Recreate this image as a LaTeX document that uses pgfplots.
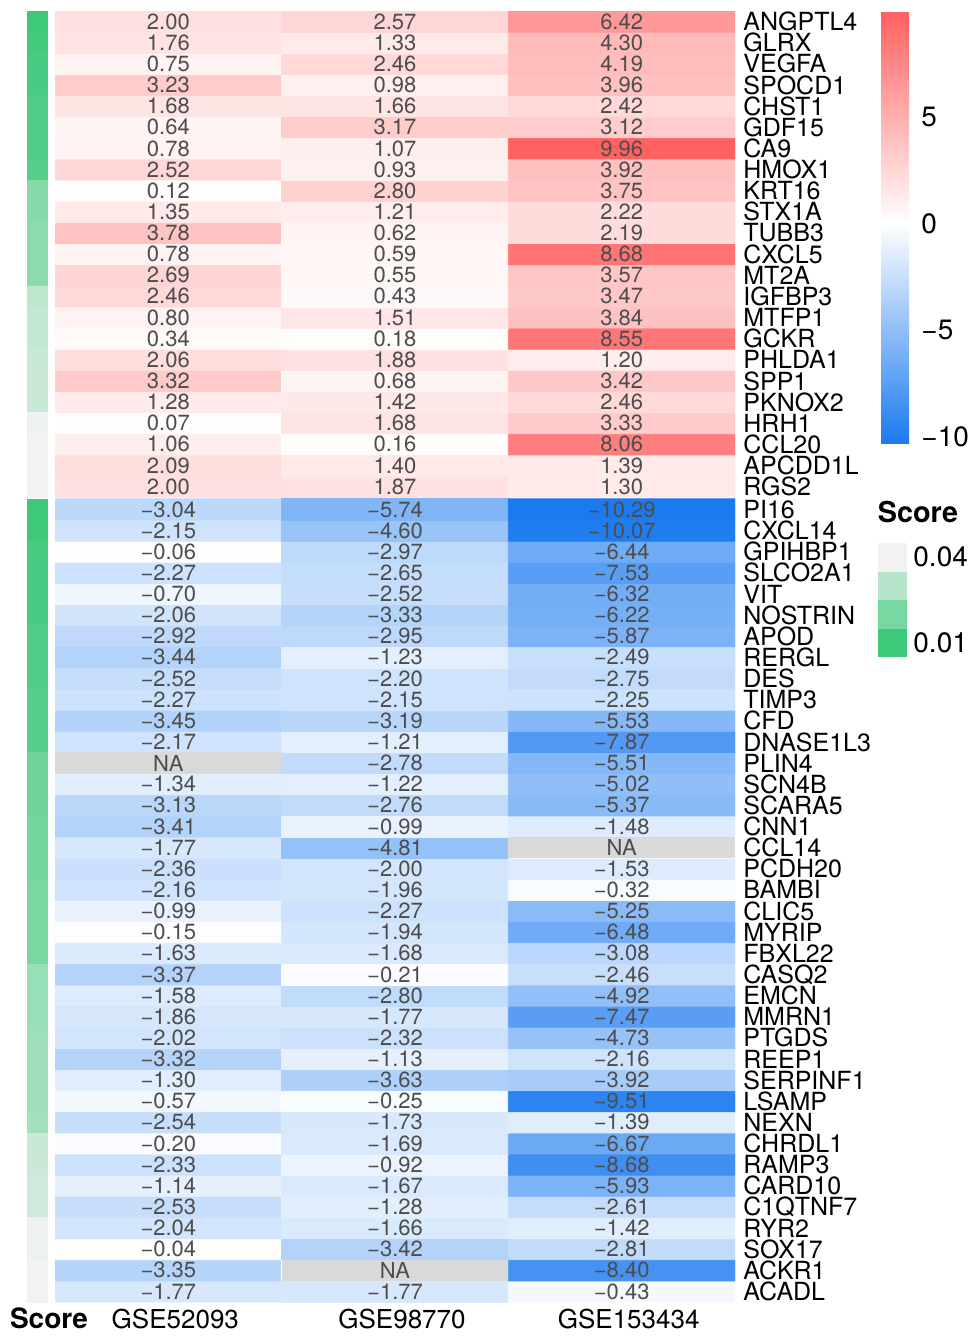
\documentclass[border=0pt]{standalone}
\usepackage{fontspec}
\setmainfont{TeX Gyre Heros}
\usepackage{pgfplots}
\usepackage{pgfplotstable}
\pgfplotsset{compat=1.18}
\definecolor{celltext}{RGB}{77,77,77}
\definecolor{nagray}{RGB}{217,217,217}
\definecolor{sc1}{RGB}{61,201,121}
\definecolor{sc2}{RGB}{121,215,161}
\definecolor{sc3}{RGB}{182,228,202}
\definecolor{sc4}{RGB}{242,242,242}
\pgfplotsset{colormap={hm}{rgb255(0cm)=(27,122,240) rgb255(10.29cm)=(255,255,255) rgb255(20.25cm)=(255,96,96)}}
\pgfplotsset{colormap={sc}{rgb255(0cm)=(61,201,121) rgb255(3cm)=(242,242,242)}}

\pgfplotstableread{
x y v lab
0 38.58 2.00 2.00
1 38.58 1.87 1.87
2 38.58 1.30 1.30
0 39.58 2.09 2.09
1 39.58 1.40 1.40
2 39.58 1.39 1.39
0 40.58 1.06 1.06
1 40.58 0.16 0.16
2 40.58 8.06 8.06
0 41.58 0.07 0.07
1 41.58 1.68 1.68
2 41.58 3.33 3.33
0 42.58 1.28 1.28
1 42.58 1.42 1.42
2 42.58 2.46 2.46
0 43.58 3.32 3.32
1 43.58 0.68 0.68
2 43.58 3.42 3.42
0 44.58 2.06 2.06
1 44.58 1.88 1.88
2 44.58 1.20 1.20
0 45.58 0.34 0.34
1 45.58 0.18 0.18
2 45.58 8.55 8.55
0 46.58 0.80 0.80
1 46.58 1.51 1.51
2 46.58 3.84 3.84
0 47.58 2.46 2.46
1 47.58 0.43 0.43
2 47.58 3.47 3.47
0 48.58 2.69 2.69
1 48.58 0.55 0.55
2 48.58 3.57 3.57
0 49.58 0.78 0.78
1 49.58 0.59 0.59
2 49.58 8.68 8.68
0 50.58 3.78 3.78
1 50.58 0.62 0.62
2 50.58 2.19 2.19
0 51.58 1.35 1.35
1 51.58 1.21 1.21
2 51.58 2.22 2.22
0 52.58 0.12 0.12
1 52.58 2.80 2.80
2 52.58 3.75 3.75
0 53.58 2.52 2.52
1 53.58 0.93 0.93
2 53.58 3.92 3.92
0 54.58 0.78 0.78
1 54.58 1.07 1.07
2 54.58 9.96 9.96
0 55.58 0.64 0.64
1 55.58 3.17 3.17
2 55.58 3.12 3.12
0 56.58 1.68 1.68
1 56.58 1.66 1.66
2 56.58 2.42 2.42
0 57.58 3.23 3.23
1 57.58 0.98 0.98
2 57.58 3.96 3.96
0 58.58 0.75 0.75
1 58.58 2.46 2.46
2 58.58 4.19 4.19
0 59.58 1.76 1.76
1 59.58 1.33 1.33
2 59.58 4.30 4.30
0 60.58 2.00 2.00
1 60.58 2.57 2.57
2 60.58 6.42 6.42
}\uptab

\pgfplotstableread{
x y v lab
0 0.5 -1.77 −1.77
1 0.5 -1.77 −1.77
2 0.5 -0.43 −0.43
0 1.5 -3.35 −3.35
1 1.5 0 NA
2 1.5 -8.40 −8.40
0 2.5 -0.04 −0.04
1 2.5 -3.42 −3.42
2 2.5 -2.81 −2.81
0 3.5 -2.04 −2.04
1 3.5 -1.66 −1.66
2 3.5 -1.42 −1.42
0 4.5 -2.53 −2.53
1 4.5 -1.28 −1.28
2 4.5 -2.61 −2.61
0 5.5 -1.14 −1.14
1 5.5 -1.67 −1.67
2 5.5 -5.93 −5.93
0 6.5 -2.33 −2.33
1 6.5 -0.92 −0.92
2 6.5 -8.68 −8.68
0 7.5 -0.20 −0.20
1 7.5 -1.69 −1.69
2 7.5 -6.67 −6.67
0 8.5 -2.54 −2.54
1 8.5 -1.73 −1.73
2 8.5 -1.39 −1.39
0 9.5 -0.57 −0.57
1 9.5 -0.25 −0.25
2 9.5 -9.51 −9.51
0 10.5 -1.30 −1.30
1 10.5 -3.63 −3.63
2 10.5 -3.92 −3.92
0 11.5 -3.32 −3.32
1 11.5 -1.13 −1.13
2 11.5 -2.16 −2.16
0 12.5 -2.02 −2.02
1 12.5 -2.32 −2.32
2 12.5 -4.73 −4.73
0 13.5 -1.86 −1.86
1 13.5 -1.77 −1.77
2 13.5 -7.47 −7.47
0 14.5 -1.58 −1.58
1 14.5 -2.80 −2.80
2 14.5 -4.92 −4.92
0 15.5 -3.37 −3.37
1 15.5 -0.21 −0.21
2 15.5 -2.46 −2.46
0 16.5 -1.63 −1.63
1 16.5 -1.68 −1.68
2 16.5 -3.08 −3.08
0 17.5 -0.15 −0.15
1 17.5 -1.94 −1.94
2 17.5 -6.48 −6.48
0 18.5 -0.99 −0.99
1 18.5 -2.27 −2.27
2 18.5 -5.25 −5.25
0 19.5 -2.16 −2.16
1 19.5 -1.96 −1.96
2 19.5 -0.32 −0.32
0 20.5 -2.36 −2.36
1 20.5 -2.00 −2.00
2 20.5 -1.53 −1.53
0 21.5 -1.77 −1.77
1 21.5 -4.81 −4.81
2 21.5 0 NA
0 22.5 -3.41 −3.41
1 22.5 -0.99 −0.99
2 22.5 -1.48 −1.48
0 23.5 -3.13 −3.13
1 23.5 -2.76 −2.76
2 23.5 -5.37 −5.37
0 24.5 -1.34 −1.34
1 24.5 -1.22 −1.22
2 24.5 -5.02 −5.02
0 25.5 0 NA
1 25.5 -2.78 −2.78
2 25.5 -5.51 −5.51
0 26.5 -2.17 −2.17
1 26.5 -1.21 −1.21
2 26.5 -7.87 −7.87
0 27.5 -3.45 −3.45
1 27.5 -3.19 −3.19
2 27.5 -5.53 −5.53
0 28.5 -2.27 −2.27
1 28.5 -2.15 −2.15
2 28.5 -2.25 −2.25
0 29.5 -2.52 −2.52
1 29.5 -2.20 −2.20
2 29.5 -2.75 −2.75
0 30.5 -3.44 −3.44
1 30.5 -1.23 −1.23
2 30.5 -2.49 −2.49
0 31.5 -2.92 −2.92
1 31.5 -2.95 −2.95
2 31.5 -5.87 −5.87
0 32.5 -2.06 −2.06
1 32.5 -3.33 −3.33
2 32.5 -6.22 −6.22
0 33.5 -0.70 −0.70
1 33.5 -2.52 −2.52
2 33.5 -6.32 −6.32
0 34.5 -2.27 −2.27
1 34.5 -2.65 −2.65
2 34.5 -7.53 −7.53
0 35.5 -0.06 −0.06
1 35.5 -2.97 −2.97
2 35.5 -6.44 −6.44
0 36.5 -2.15 −2.15
1 36.5 -4.60 −4.60
2 36.5 -10.07 −10.07
0 37.5 -3.04 −3.04
1 37.5 -5.74 −5.74
2 37.5 -10.29 −10.29
}\downtab

\pgfplotstableread{
y s
60.58 0.010
59.58 0.011
58.58 0.012
57.58 0.012
56.58 0.013
55.58 0.013
54.58 0.013
53.58 0.014
52.58 0.022
51.58 0.022
50.58 0.023
49.58 0.023
48.58 0.023
47.58 0.031
46.58 0.032
45.58 0.032
44.58 0.033
43.58 0.033
42.58 0.033
41.58 0.039
40.58 0.040
39.58 0.040
38.58 0.040
37.5 0.010
36.5 0.010
35.5 0.012
34.5 0.012
33.5 0.012
32.5 0.012
31.5 0.013
30.5 0.013
29.5 0.013
28.5 0.014
27.5 0.014
26.5 0.014
25.5 0.018
24.5 0.018
23.5 0.018
22.5 0.019
21.5 0.019
20.5 0.019
19.5 0.020
18.5 0.020
17.5 0.020
16.5 0.020
15.5 0.025
14.5 0.025
13.5 0.025
12.5 0.026
11.5 0.026
10.5 0.026
9.5 0.026
8.5 0.027
7.5 0.033
6.5 0.033
5.5 0.034
4.5 0.034
3.5 0.039
2.5 0.039
1.5 0.040
0.5 0.040
}\scoretab

\begin{document}
\begin{tikzpicture}
\path[use as bounding box] (0pt,0pt) rectangle (490pt,-669.5pt);

% score column
\begin{axis}[
  at={(13.5pt,-5.5pt)}, anchor=north west,
  scale only axis, width=10pt, height=645.5pt,
  xmin=-0.5, xmax=0.5, ymin=0, ymax=61.08,
  colormap name=sc, point meta min=0.01, point meta max=0.04,
  axis line style={draw=none}, major tick length=0pt,
  ytick=\empty, xtick={0}, xticklabels={\bfseries Score},
  xticklabel style={font=\fontsize{14}{14}\selectfont, anchor=base, yshift=-13pt, xshift=6pt},
  clip=false,
]
\addplot[scatter, only marks, mark=square*, mark size=5.284pt, point meta=explicit,
  scatter/use mapped color={draw=mapped color, fill=mapped color},
  mark options={xscale=0.946, line width=0.2pt}]
  table[x expr=0, y=y, meta=s]{\scoretab};
\end{axis}

% main heatmap
\begin{axis}[
  at={(27.5pt,-5.5pt)}, anchor=north west,
  scale only axis, width=340pt, height=645.5pt,
  xmin=-0.5, xmax=2.5, ymin=0, ymax=61.08,
  colormap name=hm, point meta min=-10.29, point meta max=9.96,
  axis line style={draw=none}, major tick length=0pt,
  xtick={0,1,2}, xticklabels={GSE52093,GSE98770,GSE153434},
  xticklabel style={font=\fontsize{13}{13}\selectfont, anchor=base, yshift=-13pt, xshift=3.5pt},
  ytick={0.5,1.5,...,37.5,38.58,39.58,...,60.6},
  yticklabels={ACADL,ACKR1,SOX17,RYR2,C1QTNF7,CARD10,RAMP3,CHRDL1,NEXN,LSAMP,SERPINF1,REEP1,PTGDS,MMRN1,EMCN,CASQ2,FBXL22,MYRIP,CLIC5,BAMBI,PCDH20,CCL14,CNN1,SCARA5,SCN4B,PLIN4,DNASE1L3,CFD,TIMP3,DES,RERGL,APOD,NOSTRIN,VIT,SLCO2A1,GPIHBP1,CXCL14,PI16,RGS2,APCDD1L,CCL20,HRH1,PKNOX2,SPP1,PHLDA1,GCKR,MTFP1,IGFBP3,MT2A,CXCL5,TUBB3,STX1A,KRT16,HMOX1,CA9,GDF15,CHST1,SPOCD1,VEGFA,GLRX,ANGPTL4},
  yticklabel pos=right,
  yticklabel style={font=\fontsize{12.5}{12.5}\selectfont, anchor=west, inner sep=0pt, xshift=4pt},
  colorbar right,
  colorbar style={
    at={(parent axis.north east)}, anchor=north west, xshift=64.5pt,
    scale only axis, width=14pt, height=216pt,
    ytick={-10,-5,0,5}, yticklabels={−10,−5,0,5},
    yticklabel style={font=\fontsize{14}{14}\selectfont, inner sep=0pt, anchor=west, xshift=6pt},
    axis line style={draw=none}, major tick length=0pt,
  },
]
\addplot[matrix plot*, mesh/cols=3, point meta=explicit] table[x=x, y=y, meta=v]{\uptab};
\addplot[matrix plot*, mesh/cols=3, point meta=explicit] table[x=x, y=y, meta=v]{\downtab};
\addplot[fill=nagray, draw=none] coordinates {(-0.5,25) (0.5,25) (0.5,26) (-0.5,26)} -- cycle;
\addplot[fill=nagray, draw=none] coordinates {(1.5,21) (2.5,21) (2.5,22) (1.5,22)} -- cycle;
\addplot[fill=nagray, draw=none] coordinates {(0.5,1) (1.5,1) (1.5,2) (0.5,2)} -- cycle;
\addplot[only marks, mark=none, point meta=explicit symbolic, nodes near coords,
  nodes near coords style={font=\fontsize{11}{11}\selectfont, text=celltext, anchor=center, inner sep=0pt}]
  table[x=x, y=y, meta=lab]{\uptab};
\addplot[only marks, mark=none, point meta=explicit symbolic, nodes near coords,
  nodes near coords style={font=\fontsize{11}{11}\selectfont, text=celltext, anchor=center, inner sep=0pt}]
  table[x=x, y=y, meta=lab]{\downtab};
\end{axis}

% Score legend
\node[font=\fontsize{14.4}{14.4}\selectfont\bfseries, anchor=center] at (459pt,-256pt) {Score};
\fill[sc4] (439pt,-271.5pt) rectangle (453.5pt,-285.75pt);
\fill[sc3] (439pt,-285.75pt) rectangle (453.5pt,-300pt);
\fill[sc2] (439pt,-300pt) rectangle (453.5pt,-314.25pt);
\fill[sc1] (439pt,-314.25pt) rectangle (453.5pt,-328.5pt);
\node[font=\fontsize{14}{14}\selectfont, anchor=west, inner sep=0pt] at (456.5pt,-278.5pt) {0.04};
\node[font=\fontsize{14}{14}\selectfont, anchor=west, inner sep=0pt] at (456.5pt,-321.5pt) {0.01};
\end{tikzpicture}
\end{document}
